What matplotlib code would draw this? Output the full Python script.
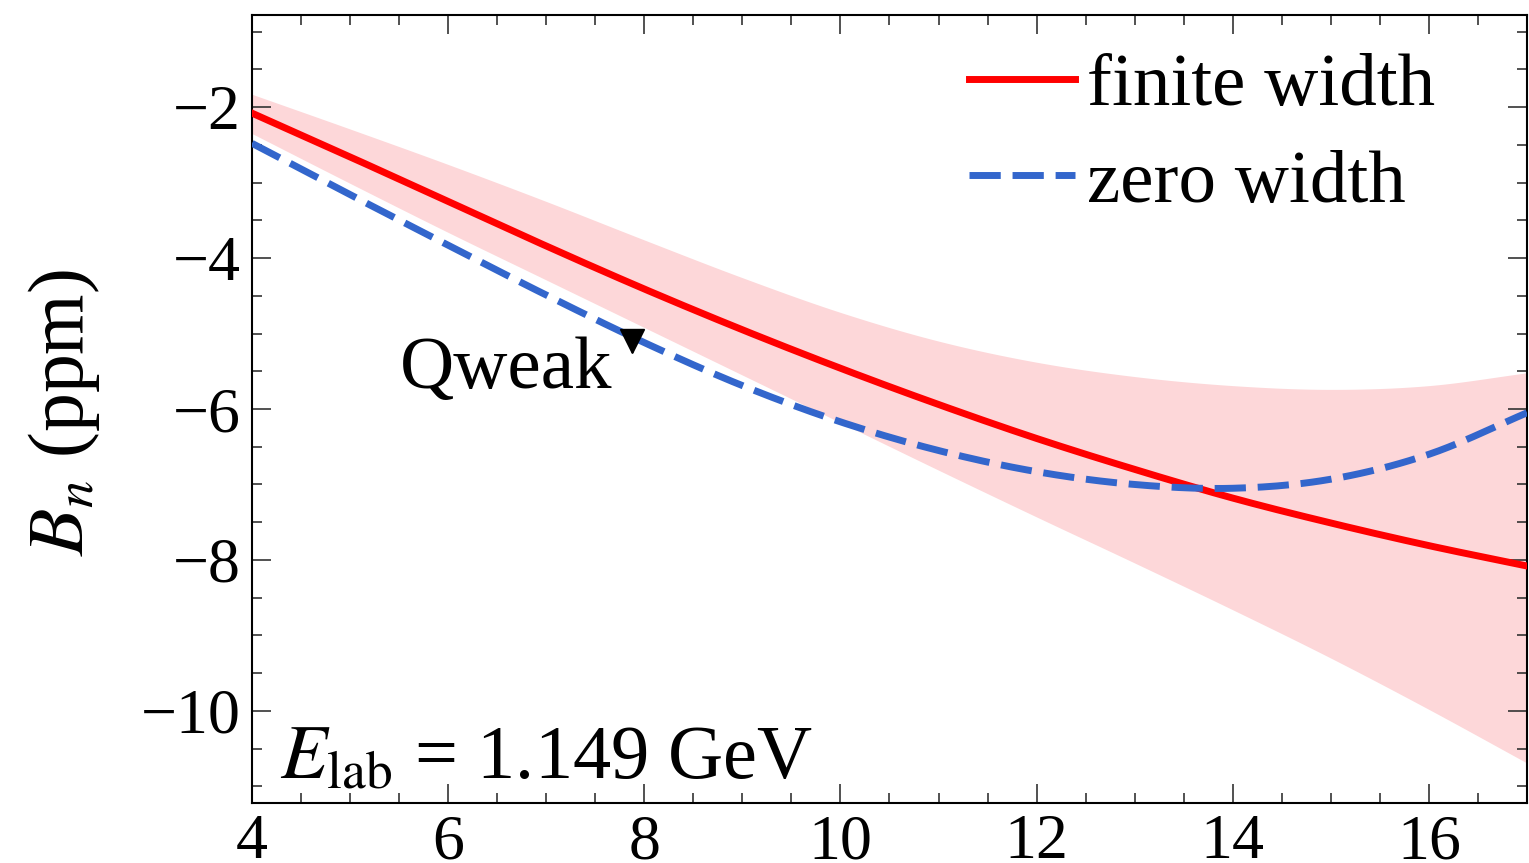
import matplotlib
matplotlib.use("Agg")
import matplotlib.pyplot as plt
import numpy as np
from matplotlib.ticker import MultipleLocator

plt.rcParams['font.family'] = ['Liberation Serif', 'DejaVu Serif']
plt.rcParams['mathtext.fontset'] = 'stix'

# beam energy in the lab (GeV) vs. B_n (ppm)
energy = [4, 5, 6, 7, 8, 9, 10, 11, 12, 13, 14, 15, 16, 17]
finite_width = [-2.08, -2.66, -3.25, -3.84, -4.41, -4.95, -5.46, -5.94,
                -6.39, -6.80, -7.18, -7.51, -7.81, -8.08]
band_upper = [-1.83, -2.29, -2.76, -3.25, -3.76, -4.26, -4.72, -5.10,
              -5.38, -5.57, -5.69, -5.74, -5.69, -5.52]
band_lower = [-2.35, -3.01, -3.66, -4.29, -4.92, -5.55, -6.18, -6.81,
              -7.43, -8.04, -8.66, -9.30, -9.98, -10.69]
zero_width = [-2.48, -3.16, -3.83, -4.49, -5.12, -5.69, -6.17, -6.55,
              -6.83, -7.00, -7.05, -6.93, -6.60, -6.05]

qweak_x = [7.87]
qweak_y = [-5.10]


def smooth(x, y, n=20):
    # Catmull-Rom spline through the tabulated points
    x = np.asarray(x, float)
    y = np.asarray(y, float)
    xp = np.concatenate([[2 * x[0] - x[1]], x, [2 * x[-1] - x[-2]]])
    yp = np.concatenate([[2 * y[0] - y[1]], y, [2 * y[-1] - y[-2]]])
    xo, yo = [], []
    for i in range(1, len(xp) - 2):
        t = np.linspace(0, 1, n, endpoint=False)
        p0, p1, p2, p3 = yp[i - 1:i + 3]
        yo.append(0.5 * (2 * p1 + (p2 - p0) * t
                         + (2 * p0 - 5 * p1 + 4 * p2 - p3) * t ** 2
                         + (3 * p1 - p0 - 3 * p2 + p3) * t ** 3))
        xo.append(xp[i] + (xp[i + 1] - xp[i]) * t)
    xo.append([x[-1]])
    yo.append([y[-1]])
    return np.concatenate(xo), np.concatenate(yo)


fig = plt.figure(figsize=(15.29, 8.63), dpi=100)
ax = fig.add_axes([0.1648, 0.0695, 0.8339, 0.9131])

xs, lo = smooth(energy, band_lower)
_, hi = smooth(energy, band_upper)
ax.fill_between(xs, lo, hi, color='#fdd7d9', lw=0, zorder=1)
ax.plot(*smooth(energy, finite_width), color='#ff0000', lw=5,
        label='finite width', zorder=3)
ax.plot(*smooth(energy, zero_width), color='#3366cc', lw=5,
        dashes=(4.5, 1.7), label='zero width', zorder=3)

ax.plot(qweak_x, qweak_y, marker='v', color='black', ms=17, ls='none',
        zorder=4)
ax.errorbar(qweak_x, qweak_y, yerr=0.14, color='black', lw=2, zorder=4)
ax.text(7.67, -5.72, 'Qweak', fontsize=54, ha='right', va='baseline')

ax.text(0.022, 0.032, r'$E_{\rm lab}$ = 1.149 GeV', transform=ax.transAxes,
        fontsize=55, ha='left', va='baseline')

ax.set_xlim(4, 17)
ax.set_ylim(-11.22, -0.78)
ax.xaxis.set_major_locator(MultipleLocator(2))
ax.xaxis.set_minor_locator(MultipleLocator(0.5))
ax.yaxis.set_major_locator(MultipleLocator(2))
ax.yaxis.set_minor_locator(MultipleLocator(0.5))
ax.tick_params(which='both', direction='in', top=True, right=True,
               labelsize=46, width=1.2, color='#333333')
ax.tick_params(which='major', length=14, pad=8)
ax.tick_params(which='minor', length=7)
for sp in ax.spines.values():
    sp.set_linewidth(1.5)

ax.set_ylabel(r'$B_n$ (ppm)', fontsize=56)
ax.yaxis.set_label_coords(-0.118, 0.496)

leg = ax.legend(loc='upper right', bbox_to_anchor=(0.928, 0.952),
                fontsize=54, frameon=False, borderpad=0, borderaxespad=0,
                handlelength=1.41, handletextpad=0.16, labelspacing=0.37)

fig.savefig('out.png', dpi=100)
